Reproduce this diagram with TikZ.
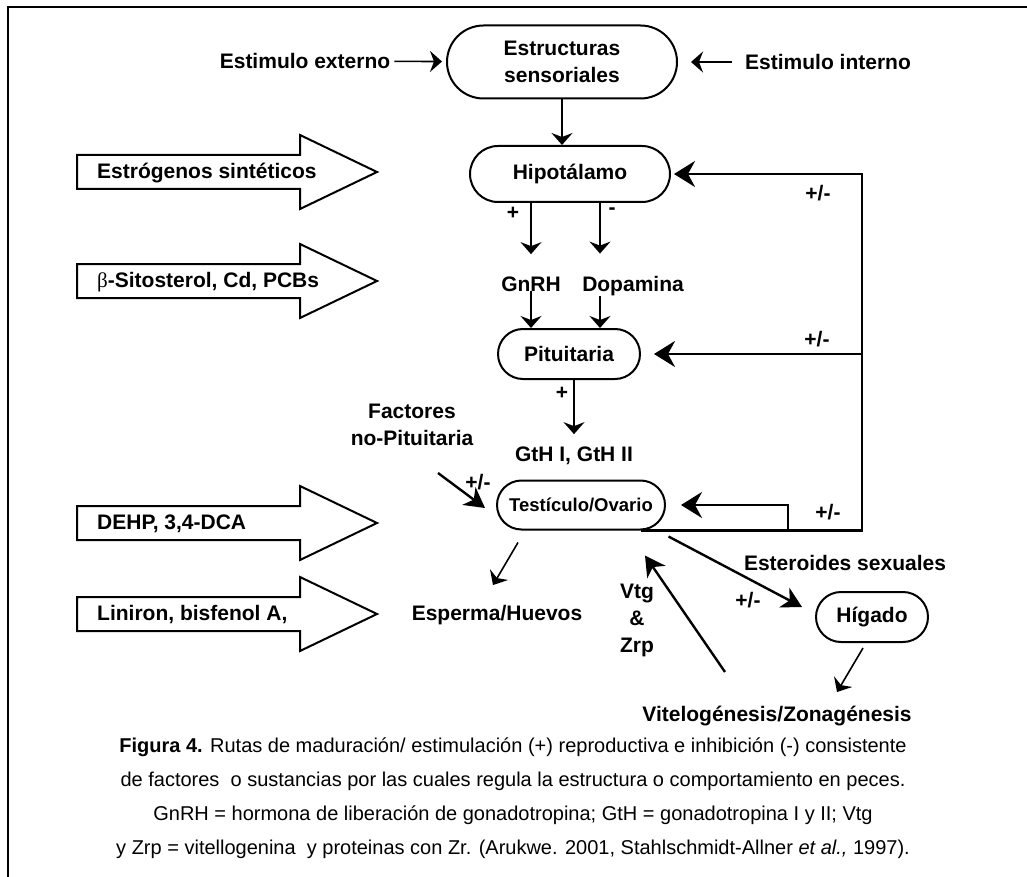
\documentclass[tikz,border=0pt]{standalone}
\usepackage{fontspec}
\setmainfont{Liberation Sans}
\newfontfamily\griega{Liberation Serif}
\usetikzlibrary{arrows.meta,calc,shapes.misc}
\newcommand{\rotulo}{\bfseries\fontsize{21}{27}\selectfont}
\tikzstyle{organo}=[draw, rounded rectangle, line width=2pt, inner sep=0, align=center, font=\rotulo]
\tikzstyle{texto}=[inner sep=0, align=center, font=\rotulo]
\tikzstyle{flecha}=[line width=1.6pt, -{Stealth[length=12pt, width=21pt, inset=4pt]}]
\tikzstyle{flechag}=[line width=2.4pt, -{Stealth[length=20pt, width=22pt, inset=6pt]}]
\tikzstyle{retro}=[line width=2.6pt]
\tikzstyle{punta}=[-{Stealth[length=21pt, width=26pt, inset=7pt]}]
\tikzstyle{bloque}=[line width=2pt, line join=miter]
\tikzstyle{marco}=[line width=2.2pt]
\tikzstyle{leyenda}=[inner sep=0, align=center, font=\fontsize{20}{34}\selectfont]

\begin{document}
\begin{tikzpicture}[x=1pt, y=-1pt]
    \useasboundingbox (0,0) rectangle (1027,877);
    \draw[marco] (1027,7) -| (8,877);

    % organos del eje
    \node[organo, minimum width=230pt, minimum height=73pt] (sens) at (562,62) {Estructuras\\sensoriales};
    \node[organo, minimum width=200pt, minimum height=56pt] (hipo) at (570,174) {Hipotálamo};
    \node[organo, minimum width=142pt, minimum height=50pt] (pitu) at (569,354) {Pituitaria};
    \node[organo, minimum width=168pt, minimum height=49pt, font=\bfseries\fontsize{18.5}{22}\selectfont] (testi) at (581,505) {Testículo/Ovario};
    \node[organo, minimum width=112pt, minimum height=50pt] (higado) at (872,617) {Hígado};

    % rotulos sueltos
    \node[texto] (ext) at (305,61) {Estimulo externo};
    \node[texto] (inte) at (828,62) {Estimulo interno};
    \node[texto, anchor=base] (gnrh) at (531,291) {GnRH};
    \node[texto, anchor=base] (dopa) at (633,291) {Dopamina};
    \node[texto, anchor=base] (gth) at (574,461) {GtH I, GtH II};
    \node[texto] (fact) at (412,425) {Factores\\no-Pituitaria};
    \node[texto, anchor=base] (esperma) at (497,620) {Esperma/Huevos};
    \node[texto] (vtg) at (637,620) {Vtg\\\&\\Zrp};
    \node[texto] (ester) at (845,563) {Esteroides sexuales};
    \node[texto, anchor=base] (vitelo) at (777,721) {Vitelogénesis/Zonagénesis};

    % signos
    \node[texto] (s1) at (513,213) {+};
    \node[texto] (s2) at (612,211) {-};
    \node[texto] (s3) at (818,193) {+/-};
    \node[texto] (s4) at (817,339) {+/-};
    \node[texto] (s5) at (562,393) {+};
    \node[texto] (s6) at (478,482) {+/-};
    \node[texto] (s7) at (828,512) {+/-};
    \node[texto] (s8) at (748,600) {+/-};

    % flechas de bloque (toxicos)
    \foreach \c/\txt [count=\i] in {172/Estrógenos sintéticos, 281/{{\griega\mdseries β}-Sitosterol, Cd, PCBs}, 523/{DEHP, 3,4-DCA}, 614/{Liniron, bisfenol A,}} {
        \draw[bloque] (77,\c-17) -- (300,\c-17) -- (300,\c-37) -- (377,\c) -- (300,\c+37) -- (300,\c+17) -- (77,\c+17) -- cycle;
        \node[texto, anchor=west] (tox\i) at (97,\c+1) {\txt};
    }

    % estimulos
    \draw[flecha, shorten <=4pt, shorten >=4pt] (ext) -- (sens);
    \draw[flecha, shorten <=13pt, shorten >=13pt] (inte) -- (sens);
    \draw[flecha] (sens.south) -- (sens.south |- hipo.north);

    % hipotalamo -> pituitaria
    \coordinate (dop) at ($(hipo.south)+(30,0)$);
    \draw[flecha, shorten >=22pt] (hipo.south -| gnrh.north) -- (gnrh.north);
    \draw[flecha, shorten >=22pt] (dop) -- (dop |- dopa.north);
    \draw[flecha] (gnrh.south) -- (gnrh.south |- pitu.north);
    \draw[flecha] (dop |- dopa.south) -- (dop |- pitu.north);
    \draw[flecha, shorten >=12pt] (pitu.south -| gth.north) -- (gth.north);

    % retroalimentacion
    \coordinate (esq) at (862,527);
    \coordinate (rama) at (788,527);
    \draw[retro, punta, shorten >=3pt] (testi.south east) -- (testi.south east -| esq) |- (hipo.east);
    \draw[retro, punta, shorten >=13pt] (esq |- pitu.east) -- (pitu.east);
    \draw[retro, punta, shorten >=15pt] (testi.south east -| rama) |- (testi.east);

    % gonada
    \coordinate (fac) at (438,473);
    \draw[flechag] (fac) -- ([shift={(-11,3)}]testi.west);
    \draw[flecha] ([shift={(-63,12)}]testi.south) -- ([shift={(-4,-35)}]esperma.base);
    \draw[flechag] ([shift={(28,6)}]testi.south east) -- ([shift={(-13,-10)}]higado.west);
    \draw[flechag] ([shift={(-52,-49)}]vitelo.base) -- ([shift={(64,25)}]testi.south);
    \draw[flecha] ([shift={(-9,5)}]higado.south) -- ([shift={(60,-29)}]vitelo.base);

    \node[leyenda] (pie) at (513,798) {\textbf{Figura 4.} Rutas de maduración/ estimulación (+) reproductiva e inhibición (-) consistente\\de factores\ \ o sustancias por las cuales regula la estructura o comportamiento en peces.\\GnRH = hormona de liberación de gonadotropina; GtH = gonadotropina I y II; Vtg\\y Zrp = vitellogenina\ \ y proteinas con Zr. (Arukwe. 2001, Stahlschmidt-Allner \textit{et al.,} 1997).};
\end{tikzpicture}
\end{document}
